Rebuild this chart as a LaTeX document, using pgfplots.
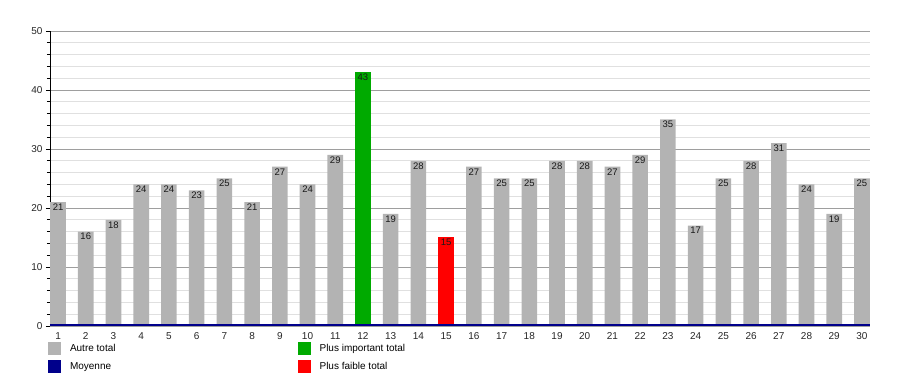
\documentclass[border=0pt]{standalone}
\usepackage{fontspec}
\setmainfont{Liberation Sans}
\usepackage{pgfplots}
\pgfplotsset{compat=1.18}
\definecolor{barGray}{HTML}{B3B3B3}
\definecolor{barGreen}{HTML}{00AA00}
\definecolor{barRed}{HTML}{FF0000}
\definecolor{avgBlue}{HTML}{00008B}
\begin{document}
\begin{tikzpicture}
\path[use as bounding box] (0,0) rectangle (900pt,375pt);
\begin{axis}[
  at={(50pt,49pt)}, anchor=south west,
  scale only axis, width=820pt, height=295pt,
  xmin=0.71, xmax=30.29, ymin=0, ymax=50,
  ybar, bar width=15.6pt, bar shift=0pt,
  axis x line*=bottom, axis y line*=left,
  x axis line style={draw=none},
  y axis line style={black, line width=0.8pt},
  xtick={1,...,30},
  ytick={0,10,...,50},
  minor y tick num=4,
  ymajorgrids, yminorgrids,
  major grid style={draw=black!38, line width=0.7pt},
  minor grid style={draw=black!12, line width=0.7pt},
  tick align=outside,
  major tick length=4pt, minor tick length=3pt,
  x tick style={draw=none},
  y tick style={black, line width=0.6pt},
  /pgf/number format/assume math mode=true,
  ticklabel style={font=\fontsize{10}{12}\selectfont, text=black!85},
  xticklabel style={yshift=1pt},
  nodes near coords,
  every node near coord/.append style={anchor=north, inner sep=1.5pt, font=\fontsize{9.5}{11}\selectfont, text=black!90},
  legend columns=2,
  legend style={at={(0,0)}, anchor=north west, xshift=-2pt, yshift=-16pt,
    draw=none, fill=none, inner sep=0pt, outer sep=0pt, row sep=5pt,
    font=\fontsize{10}{12}\selectfont,
    cells={anchor=west},
    /tikz/every odd column/.append style={column sep=7pt},
    /tikz/every even column/.append style={column sep=180pt}},
  legend image code/.code={\fill[#1] (0pt,-6.5pt) rectangle (13pt,6.5pt);},
]
\addplot[fill=barGray, draw=none, forget plot] coordinates {
(1,21) (2,16) (3,18) (4,24) (5,24) (6,23) (7,25) (8,21) (9,27) (10,24)
(11,29) (13,19) (14,28) (16,27) (17,25) (18,25) (19,28) (20,28)
(21,27) (22,29) (23,35) (24,17) (25,25) (26,28) (27,31) (28,24) (29,19) (30,25)};
\addplot[fill=barGreen, draw=none, forget plot] coordinates {(12,43)};
\addplot[fill=barRed, draw=none, forget plot] coordinates {(15,15)};
\addplot[avgBlue, line width=2pt, sharp plot, forget plot, nodes near coords=] coordinates {(0.71,0.15) (30.29,0.15)};
\addlegendimage{fill=barGray, draw=none}
\addlegendentry{Autre total}
\addlegendimage{fill=barGreen, draw=none}
\addlegendentry{Plus important total}
\addlegendimage{fill=avgBlue, draw=none}
\addlegendentry{Moyenne}
\addlegendimage{fill=barRed, draw=none}
\addlegendentry{Plus faible total}
\end{axis}
\end{tikzpicture}
\end{document}
